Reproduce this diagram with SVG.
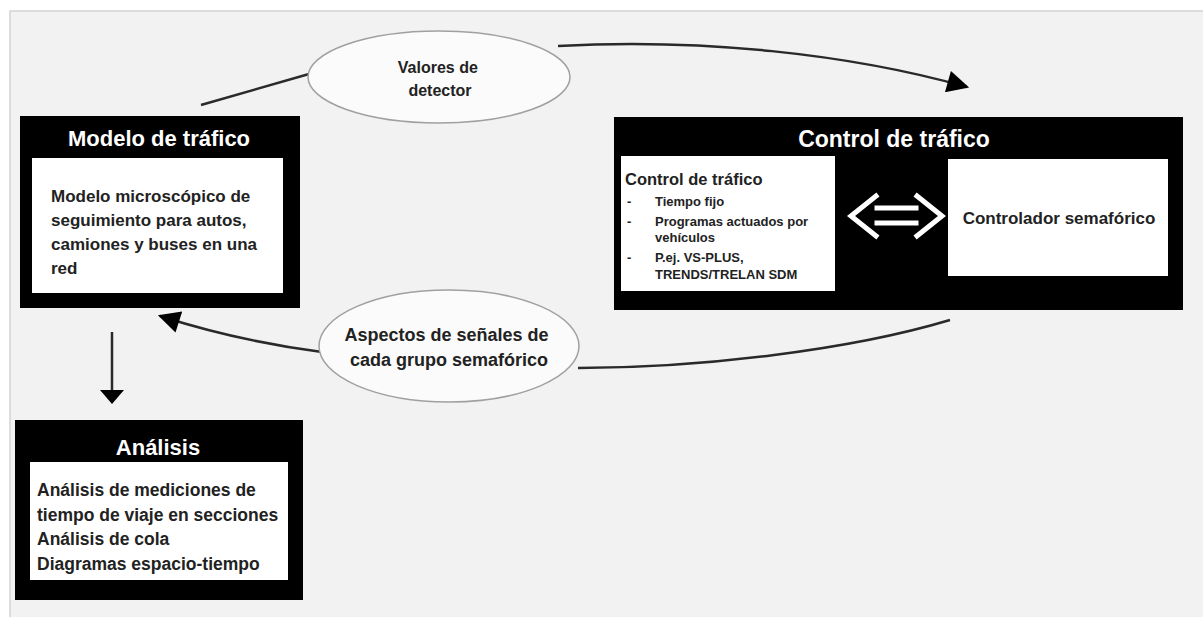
<svg xmlns="http://www.w3.org/2000/svg" width="1203" height="617" viewBox="0 0 1203 617">
  <defs>
    <marker id="tri-big" viewBox="0 0 10 10" refX="9" refY="5" markerWidth="26" markerHeight="22" markerUnits="userSpaceOnUse" orient="auto">
      <path d="M0,0 L10,5 L0,10 z" fill="#000"/>
    </marker>
    <style>
      .panel { fill: #f2f2f2; stroke: #d4d4d4; stroke-width: 1.5; }
      .frame { fill: #000; }
      .inner { fill: #fff; }
      .title { font-family: "Liberation Sans", Arial, sans-serif; font-weight: bold; fill: #fff; text-anchor: middle; }
      .body { font-family: "Liberation Sans", Arial, sans-serif; font-weight: bold; fill: #222; }
      .bubble { fill: #fbfbfb; stroke: #a0a0a0; stroke-width: 1.5; }
      .bubble-text { font-family: "Liberation Sans", Arial, sans-serif; font-weight: bold; fill: #222; text-anchor: middle; }
      .link { fill: none; stroke: #2a2a2a; stroke-width: 2.5; }
      .swap { fill: none; stroke: #fff; stroke-width: 5; stroke-linecap: square; }
    </style>
  </defs>

  <rect x="0" y="0" width="1203" height="617" fill="#fff"/>
  <rect class="panel" x="10" y="11" width="1200" height="614"/>

  <!-- connectors -->
  <g id="connectors">
    <path class="link" d="M201,105 L309,74"/>
    <path class="link" d="M558,46 C700,38 850,54 967,87" marker-end="url(#tri-big)"/>
    <path class="link" d="M950,320 C850,350 700,368 578,368"/>
    <path class="link" d="M322,352 C260,344 210,332 160,316" marker-end="url(#tri-big)"/>
    <path class="link" d="M112,332 L112,392" stroke-width="2"/>
    <path d="M100,390 L124,390 L112,404 z" fill="#000"/>
  </g>

  <!-- traffic model node -->
  <g id="modelo-trafico">
    <rect class="frame" x="20" y="116" width="280" height="192"/>
    <text class="title" x="159" y="146" font-size="22">Modelo de tráfico</text>
    <rect class="inner" x="32" y="158" width="251" height="135"/>
    <text class="body" font-size="17">
      <tspan x="51" y="202">Modelo microscópico de</tspan>
      <tspan x="51" y="226">seguimiento para autos,</tspan>
      <tspan x="51" y="250">camiones y buses en una</tspan>
      <tspan x="51" y="274">red</tspan>
    </text>
  </g>

  <!-- traffic control node -->
  <g id="control-trafico">
    <rect class="frame" x="614" y="117" width="569" height="193"/>
    <text class="title" x="894" y="147" font-size="23">Control de tráfico</text>
    <rect class="inner" x="621" y="156" width="214" height="135"/>
    <text class="body" x="625" y="185" font-size="16.5">Control de tráfico</text>
    <g class="body" font-size="13">
      <text x="627" y="206">-</text>
      <text x="655" y="206">Tiempo fijo</text>
      <text x="627" y="226">-</text>
      <text x="655" y="226">Programas actuados por</text>
      <text x="655" y="242">vehículos</text>
      <text x="627" y="262">-</text>
      <text x="655" y="262">P.ej. VS-PLUS,</text>
      <text x="655" y="279">TRENDS/TRELAN SDM</text>
    </g>
    <rect class="inner" x="948" y="159" width="220" height="117"/>
    <text class="body" x="1059" y="224" font-size="17" text-anchor="middle">Controlador semafórico</text>
    <path class="swap" d="M876,196 L851,216 L876,236"/>
    <path class="swap" d="M917,196 L942,216 L917,236"/>
    <path class="swap" d="M877,208 L916,208 M877,223 L916,223" stroke-width="4.5" stroke-linecap="butt"/>
  </g>

  <!-- analysis node -->
  <g id="analisis">
    <rect class="frame" x="15" y="420" width="288" height="180"/>
    <text class="title" x="158" y="455" font-size="22">Análisis</text>
    <rect class="inner" x="30" y="462" width="258" height="118"/>
    <text class="body" font-size="17.5">
      <tspan x="37" y="496">Análisis de mediciones de</tspan>
      <tspan x="37" y="521">tiempo de viaje en secciones</tspan>
      <tspan x="37" y="545">Análisis de cola</tspan>
      <tspan x="37" y="570">Diagramas espacio-tiempo</tspan>
    </text>
  </g>

  <!-- detector values label -->
  <g id="valores-detector">
    <ellipse class="bubble" cx="439" cy="77" rx="131" ry="46"/>
    <text class="bubble-text" font-size="16">
      <tspan x="440" y="73">Valores de</tspan>
      <tspan x="440" y="96">detector</tspan>
    </text>
  </g>

  <!-- signal aspects label -->
  <g id="aspectos-senales">
    <ellipse class="bubble" cx="449" cy="346" rx="130" ry="56"/>
    <text class="bubble-text" font-size="18">
      <tspan x="449" y="341">Aspectos de señales de</tspan>
      <tspan x="449" y="366">cada grupo semafórico</tspan>
    </text>
  </g>
</svg>
